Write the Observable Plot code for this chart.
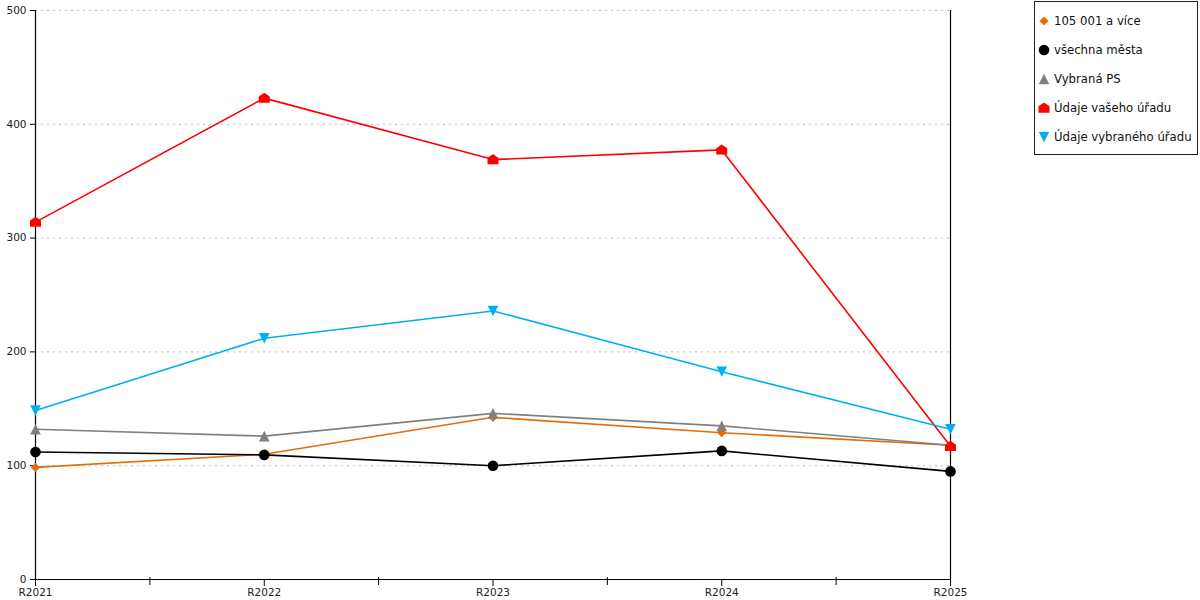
<!DOCTYPE html>
<html>
<head>
<meta charset="utf-8">
<script src="https://cdn.jsdelivr.net/npm/d3@7"></script>
<script src="https://cdn.jsdelivr.net/npm/@observablehq/plot@0.6"></script>
<style>
  html, body { margin: 0; padding: 0; background: #fff; }
  #wrap { position: relative; width: 1200px; height: 600px; font-family: "DejaVu Sans", sans-serif; }
  #legend { position: absolute; left: 1034px; top: 1px; width: 162px; height: 152px; border: 1px solid #222; background: #fff; }
  .item { position: absolute; left: 0; height: 20px; display: flex; align-items: center; font-size: 11.7px; color: #111; white-space: nowrap; }
  .item svg { margin-left: 3px; margin-right: 4px; }
</style>
</head>
<body>
<div id="wrap"><div id="legend"></div></div>
<script>
const years = ["R2021", "R2022", "R2023", "R2024", "R2025"];
const seriesNames = ["105 001 a více", "všechna města", "Vybraná PS", "Údaje vašeho úřadu", "Údaje vybraného úřadu"];
const colors = ["#e46c0a", "#000000", "#808080", "#ff0000", "#00b0f0"];
const s105 = [98.5, 110, 142.5, 129, 118];
const sVsechna = [112, 109.5, 100, 113, 95];
const sVybranaPS = [132, 126, 146, 135, 118];
const sVasUrad = [314, 423, 369, 377.5, 117];
const sVybranyUrad = [148.5, 212, 236, 182.5, 132];
const yTicks = [0, 100, 200, 300, 400, 500];

const values = [s105, sVsechna, sVybranaPS, sVasUrad, sVybranyUrad];
const rows = [];
values.forEach((arr, k) => arr.forEach((v, i) => rows.push({i, year: years[i], value: v, series: seriesNames[k]})));

function mk(fn) { return {draw(ctx, size) { fn(ctx, Math.sqrt(size / Math.PI)); }}; }
const symDiamond = mk((c, s) => { c.moveTo(0, -s); c.lineTo(s, 0); c.lineTo(0, s); c.lineTo(-s, 0); c.closePath(); });
const symCircle = mk((c, s) => { c.moveTo(s, 0); c.arc(0, 0, s, 0, 2 * Math.PI); c.closePath(); });
const symTriUp = mk((c, s) => { c.moveTo(0, -s); c.lineTo(s, s); c.lineTo(-s, s); c.closePath(); });
const symHouse = mk((c, s) => { c.moveTo(0, -s); c.lineTo(s, -0.3 * s); c.lineTo(s, 0.85 * s); c.lineTo(-s, 0.85 * s); c.lineTo(-s, -0.3 * s); c.closePath(); });
const symTriDown = mk((c, s) => { c.moveTo(0, s); c.lineTo(s, -s); c.lineTo(-s, -s); c.closePath(); });
const symbols = [symDiamond, symCircle, symTriUp, symHouse, symTriDown];
const radii = [4.6, 5.3, 5.3, 5.5, 5.3];

const marks = [
  Plot.gridY(yTicks.filter(d => d > 0), {stroke: "#bbbbbb", strokeOpacity: 1, strokeDasharray: "2,4"}),
  Plot.ruleX([0], {stroke: "#000", strokeWidth: 1.2}),
  Plot.ruleX([4], {stroke: "#000", strokeWidth: 1.2}),
  Plot.ruleY([0], {stroke: "#000", strokeWidth: 1.2}),
  Plot.axisY({ticks: yTicks, tickSize: 5, tickPadding: 4, fontSize: 10.5, fill: "#222", label: null}),
  Plot.axisX({ticks: [0, 1, 2, 3, 4], tickFormat: i => years[i], tickSize: 7, tickPadding: 2, fontSize: 10.5, fill: "#222", label: null}),
  Plot.axisX({ticks: [0.5, 1.5, 2.5, 3.5], tickFormat: () => "", tickSize: 8, dy: -2, label: null}),
];
seriesNames.forEach((name, k) => {
  const data = rows.filter(r => r.series === name);
  marks.push(Plot.line(data, {x: "i", y: "value", stroke: colors[k], strokeWidth: 1.6}));
  marks.push(Plot.dot(data, {x: "i", y: "value", fill: colors[k], stroke: "none", r: radii[k], symbol: symbols[k]}));
});

const chart = Plot.plot({
  width: 1200,
  height: 600,
  marginLeft: 35,
  marginRight: 250,
  marginTop: 10,
  marginBottom: 21,
  style: {fontFamily: "DejaVu Sans, sans-serif", background: "#fff"},
  x: {type: "linear", domain: [0, 4], axis: null},
  y: {domain: [0, 500], axis: null},
  marks
});
document.getElementById("wrap").prepend(chart);

// legend
const legend = document.getElementById("legend");
seriesNames.forEach((name, k) => {
  const item = document.createElement("div");
  item.className = "item";
  item.style.top = (9 + k * 29) + "px";
  const svg = d3.create("svg").attr("width", 12).attr("height", 12);
  svg.append("path")
    .attr("transform", "translate(6,6)")
    .attr("fill", colors[k])
    .attr("d", d3.symbol(symbols[k], Math.PI * radii[k] * radii[k])());
  item.appendChild(svg.node());
  const span = document.createElement("span");
  span.textContent = name;
  item.appendChild(span);
  legend.appendChild(item);
});
</script>
</body>
</html>
